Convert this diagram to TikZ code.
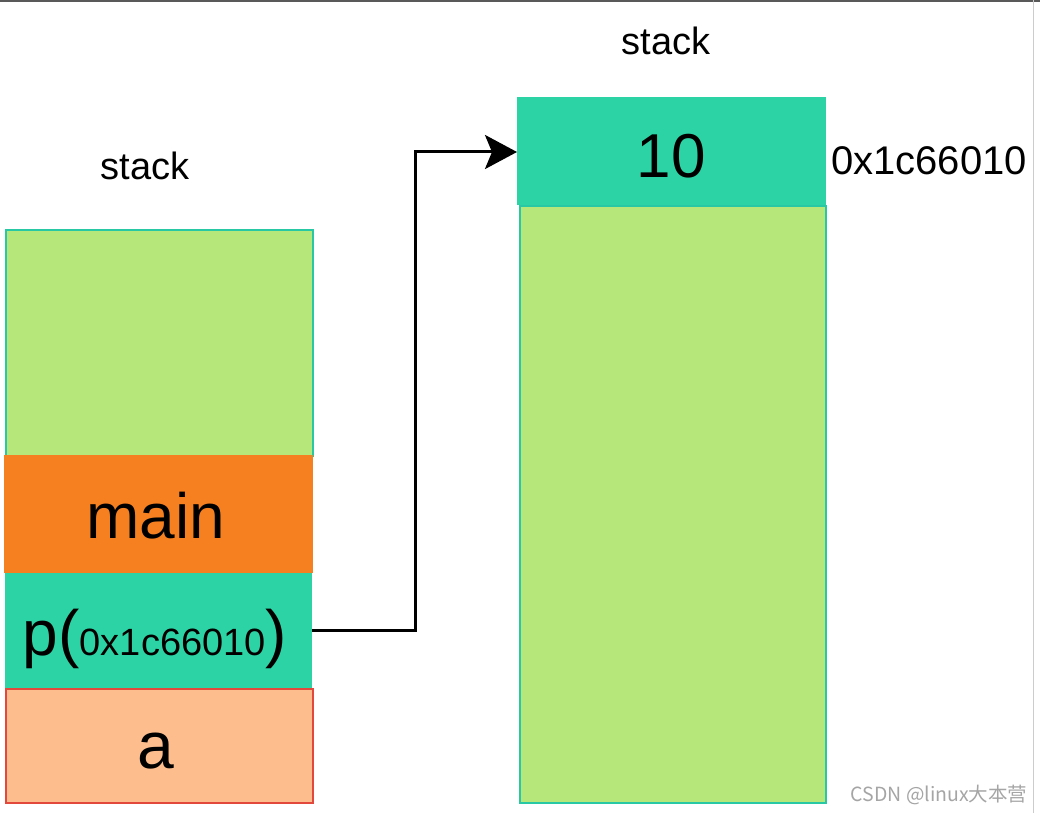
\documentclass[tikz,border=0pt]{standalone}
\usepackage{fontspec}
\setmainfont{Liberation Sans}
\newfontfamily\cjk{Noto Sans CJK SC}
\usetikzlibrary{arrows.meta}
\definecolor{lgreen}{RGB}{181,231,122}
\definecolor{tealc}{RGB}{44,212,165}
\definecolor{tealb}{RGB}{40,200,165}
\definecolor{orangec}{RGB}{246,128,32}
\definecolor{peach}{RGB}{253,189,141}
\definecolor{redb}{RGB}{226,72,60}
\definecolor{wmgray}{RGB}{165,165,165}
\tikzset{
  cell/.style={rectangle, inner sep=0pt, anchor=north west},
  txt/.style={inner sep=0pt, anchor=base, text=black},
  conn/.style={line width=3pt, black, -{Stealth[length=32pt,width=34pt,inset=7pt]}},
}
\newcommand{\fs}[1]{\fontsize{#1}{#1}\selectfont}
\begin{document}
\begin{tikzpicture}[x=1pt,y=-1pt]
\useasboundingbox[fill=white] (0,0) rectangle (1040,813);
% screenshot frame
\draw[line width=2pt, gray!70!black] (0,1) -- (1040,1);
\draw[line width=1pt, gray!40] (1033,0) -- (1033,813);
% left stack
\node[cell, fill=lgreen, draw=tealb, line width=1.5pt, minimum width=307pt, minimum height=226pt] (lfree) at (5,229) {};
\node[cell, fill=orangec, minimum width=309pt, minimum height=118pt] (main) at (4,455) {};
\node[cell, fill=tealc, minimum width=307pt, minimum height=115pt] (p) at (5,573) {};
\node[cell, fill=peach, draw=redb, line width=2pt, minimum width=307pt, minimum height=114pt] (a) at (5,688) {};
\node[txt] (lstack) at (145,179) {\fs{38}stack};
\node[txt] (mainlbl) at (156,538) {\fs{64}main};
\node[txt] (plbl) at (155,655) {\fs{64}p(\fs{38}0x1c66010\fs{64})};
\node[txt] (albl) at (156,768) {\fs{66}a};
% right stack
\node[cell, fill=lgreen, draw=tealb, line width=1.5pt, minimum width=306pt, minimum height=597pt] (rfree) at (519,205) {};
\node[cell, fill=tealc, minimum width=309pt, minimum height=108pt] (ten) at (517,97) {};
\node[txt] (rstack) at (666,55) {\fs{38}stack};
\node[txt] (tenlbl) at (671,177) {\fs{62}10};
\node[txt, anchor=base west] (addr) at (831,175) {\fs{40}0x1c66010};
% connector
\coordinate (bend1) at (415,630);
\coordinate (bend2) at (415,152);
\draw[conn] (p.east |- bend1) -- (bend1) -- (bend2) -- (bend2 -| ten.west);
% watermark
\node[inner sep=0pt, anchor=base] (wm) at (939,801) {\cjk\fontsize{19.5}{19.5}\selectfont\color{wmgray}CSDN @linux大本营};
\end{tikzpicture}
\end{document}
